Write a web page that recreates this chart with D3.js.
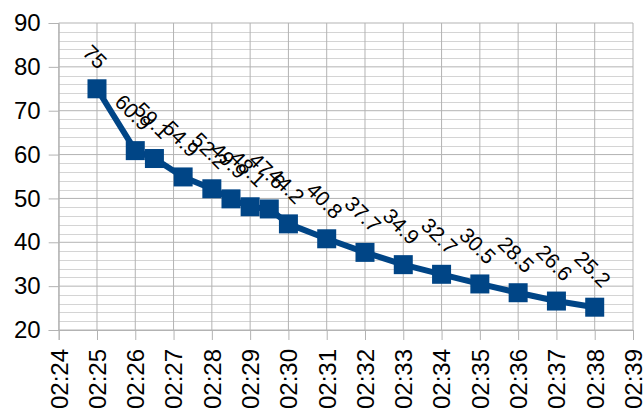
<!DOCTYPE html>
<html>
<head>
<meta charset="utf-8">
<script src="https://cdn.jsdelivr.net/npm/d3@7"></script>
<style>
  html, body { margin: 0; padding: 0; background: #fff; }
  svg { display: block; font-family: "Liberation Sans", Arial, sans-serif; }
</style>
</head>
<body>
<svg id="chart" width="643" height="414"></svg>
<script>
// Readings over time
const times = ["02:25:00", "02:26:00", "02:26:30", "02:27:15", "02:28:00", "02:28:30",
               "02:29:00", "02:29:30", "02:30:00", "02:31:00", "02:32:00", "02:33:00",
               "02:34:00", "02:35:00", "02:36:00", "02:37:00", "02:38:00"];
const values = [75, 60.9, 59.1, 54.9, 52.2, 49.9, 48.1, 47.6, 44.2, 40.8, 37.7, 34.9,
                32.7, 30.5, 28.5, 26.6, 25.2];
const yTicks = [20, 30, 40, 50, 60, 70, 80, 90];
const xDomain = ["02:24:00", "02:39:00"];

const parse = d3.timeParse("%H:%M:%S");
const data = times.map((t, i) => ({ t: parse(t), v: values[i] }));

const svg = d3.select("#chart");
const margin = { left: 58.7, right: 10, top: 23, bottom: 84 };
const W = 643, H = 414;
const x0 = margin.left, x1 = W - margin.right;
const y0 = H - margin.bottom, y1 = margin.top;

const x = d3.scaleTime().domain(xDomain.map(parse)).range([x0, x1]);
const y = d3.scaleLinear().domain([20, 90]).range([y0, y1]);

const minuteTicks = d3.timeMinute.range(parse(xDomain[0]), d3.timeMinute.offset(parse(xDomain[1]), 1));
const minorY = d3.range(20, 90.001, 2);

// Minor horizontal grid
svg.append("g").selectAll("line").data(minorY.filter(v => v % 10 !== 0)).join("line")
  .attr("x1", x0).attr("x2", x1)
  .attr("y1", d => Math.round(y(d)) + 0.5).attr("y2", d => Math.round(y(d)) + 0.5)
  .attr("stroke", "#d4d4d4").attr("stroke-width", 1);

// Vertical grid at each minute
svg.append("g").selectAll("line").data(minuteTicks).join("line")
  .attr("x1", d => x(d)).attr("x2", d => x(d))
  .attr("y1", y0).attr("y2", y1)
  .attr("stroke", "#b3b3b3").attr("stroke-width", 1);

// Major horizontal grid
svg.append("g").selectAll("line").data(yTicks).join("line")
  .attr("x1", x0).attr("x2", x1)
  .attr("y1", d => y(d)).attr("y2", d => y(d))
  .attr("stroke", "#b3b3b3").attr("stroke-width", 1);

// Y axis
const yAxis = svg.append("g").attr("transform", `translate(${x0},0)`)
  .call(d3.axisLeft(y).tickValues(yTicks).tickSize(10).tickPadding(8).tickFormat(d3.format("d")));
yAxis.select(".domain").attr("stroke", "#b3b3b3");
yAxis.selectAll(".tick line").attr("stroke", "#b3b3b3");
yAxis.selectAll(".tick text").attr("fill", "#000").style("font-size", "24px")
  .style("font-family", "Liberation Sans, Arial, sans-serif");

// X axis with vertical labels
const xAxis = svg.append("g").attr("transform", `translate(0,${y0})`)
  .call(d3.axisBottom(x).tickValues(minuteTicks).tickSize(10).tickFormat(d3.timeFormat("%H:%M")));
xAxis.select(".domain").attr("stroke", "#b3b3b3");
xAxis.selectAll(".tick line").attr("stroke", "#b3b3b3");
xAxis.selectAll(".tick text")
  .attr("fill", "#000").style("font-size", "24px")
  .style("font-family", "Liberation Sans, Arial, sans-serif")
  .attr("text-anchor", "end").attr("dy", "0.35em")
  .attr("transform", "translate(0,19) rotate(-90)")
  .attr("x", 0).attr("y", 0);

// Series line
const line = d3.line().x(d => x(d.t)).y(d => y(d.v));
svg.append("path").datum(data)
  .attr("d", line).attr("fill", "none")
  .attr("stroke", "#004586").attr("stroke-width", 6).attr("stroke-linejoin", "round");

// Square markers
const ms = 19;
svg.append("g").selectAll("rect").data(data).join("rect")
  .attr("x", d => x(d.t) - ms / 2).attr("y", d => y(d.v) - ms / 2)
  .attr("width", ms).attr("height", ms).attr("fill", "#004586");

// Value labels, rotated and centred above each marker
const fs = 21;
const labels = svg.append("g").selectAll("text").data(data).join("text")
  .text(d => d.v)
  .attr("text-anchor", "middle").attr("dominant-baseline", "central")
  .attr("fill", "#000").style("font-size", fs + "px");
labels.each(function (d) {
  const w = this.getComputedTextLength();
  const box = (w + fs * 0.72) / Math.SQRT2;
  const cx = x(d.t) - 2, cy = y(d.v) - ms / 2 - 9 - box / 2;
  d3.select(this).attr("x", 0).attr("y", 0)
    .attr("transform", `translate(${cx},${cy}) rotate(45)`);
});
</script>
</body>
</html>
